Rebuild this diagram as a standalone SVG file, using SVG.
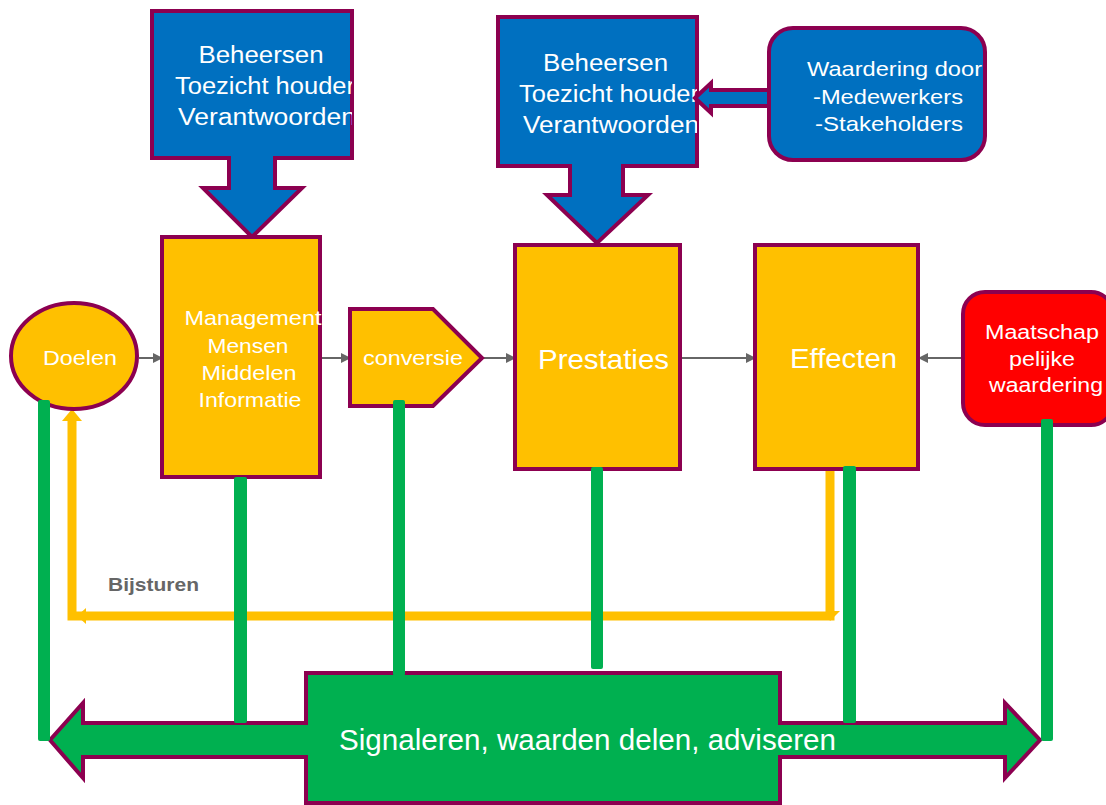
<svg xmlns="http://www.w3.org/2000/svg" width="1106" height="805" viewBox="0 0 1106 805">
<style>
.ol{stroke:#8C0050;stroke-width:4;stroke-linejoin:miter}
.blue{fill:#0070C0}
.yel{fill:#FFC000}
.t{font-family:"Liberation Sans",Arial,sans-serif;fill:#FFFFFF;text-anchor:middle}
.ts{font-family:"Liberation Sans",Arial,sans-serif;fill:#FFFFFF}
.gbar{fill:#00B050}
.con{stroke:#666666;stroke-width:2;fill:none}
.ybar{stroke:#FFC000;stroke-width:9;fill:none}
</style>
<defs>
<marker id="ah" viewBox="0 0 10 10" refX="9" refY="5" markerWidth="10" markerHeight="10" markerUnits="userSpaceOnUse" orient="auto">
<path d="M0,0 L10,5 L0,10 z" fill="#666666"/>
</marker>
<clipPath id="c1"><rect x="152" y="11" width="200" height="147"/></clipPath>
<clipPath id="c2"><rect x="498" y="17" width="199" height="149"/></clipPath>
<clipPath id="c3"><rect x="963" y="292" width="143" height="133"/></clipPath>
</defs>

<g id="beheersen1">
<polygon class="ol blue" points="152,11 352,11 352,158 275,158 275,188 302,188 252,237 203,188 229,188 229,158 152,158"/>
<g clip-path="url(#c1)">
<text class="t" x="261" y="63" font-size="23" textLength="125" lengthAdjust="spacingAndGlyphs">Beheersen</text>
<text class="ts" x="175" y="94" font-size="23" textLength="180" lengthAdjust="spacingAndGlyphs">Toezicht houder</text>
<text class="ts" x="178" y="125" font-size="23" textLength="178" lengthAdjust="spacingAndGlyphs">Verantwoorden</text>
</g>
</g>

<g id="beheersen2">
<polygon class="ol blue" points="498,17 697,17 697,166 623,166 623,195 648,195 597,243 547,195 570,195 570,166 498,166"/>
<g clip-path="url(#c2)">
<text class="t" x="605.5" y="71" font-size="23" textLength="125" lengthAdjust="spacingAndGlyphs">Beheersen</text>
<text class="ts" x="519" y="102" font-size="23" textLength="180" lengthAdjust="spacingAndGlyphs">Toezicht houder</text>
<text class="ts" x="523" y="133" font-size="23" textLength="176" lengthAdjust="spacingAndGlyphs">Verantwoorden</text>
</g>
</g>

<g id="connectors">
<line class="con" x1="139" y1="358" x2="162" y2="358" marker-end="url(#ah)"/>
<line class="con" x1="322" y1="358" x2="350" y2="358" marker-end="url(#ah)"/>
<line class="con" x1="483" y1="358" x2="515" y2="358" marker-end="url(#ah)"/>
<line class="con" x1="681" y1="358" x2="755" y2="358" marker-end="url(#ah)"/>
<line class="con" x1="963" y1="358" x2="919" y2="358" marker-end="url(#ah)"/>
<polygon class="ol blue" stroke-width="3" points="695,98 711,83 711,90 775,90 775,106 711,106 711,113"/>
<path class="ybar" d="M830,467 L830,616 L72,616 L72,420"/>
<polygon fill="#FFC000" points="72,409 82,421 62,421"/>
<polygon fill="#FFC000" points="77,616 86,608 86,624"/>
<polygon fill="#FFC000" points="826,611 840,611 830,621"/>
</g>

<g id="waardering">
<rect class="ol blue" x="769" y="28" width="216" height="132" rx="24"/>
<text class="ts" x="807" y="76" font-size="21" textLength="175" lengthAdjust="spacingAndGlyphs">Waardering door</text>
<text class="ts" x="813" y="104" font-size="21" textLength="150" lengthAdjust="spacingAndGlyphs">-Medewerkers</text>
<text class="ts" x="815" y="131" font-size="21" textLength="148" lengthAdjust="spacingAndGlyphs">-Stakeholders</text>
</g>

<g id="doelen">
<ellipse class="ol yel" cx="74" cy="356" rx="63" ry="53"/>
<text class="t" x="80" y="365" font-size="21" textLength="74" lengthAdjust="spacingAndGlyphs">Doelen</text>
</g>

<g id="management">
<rect class="ol yel" x="162" y="237" width="158" height="240"/>
<text class="t" x="253" y="325" font-size="21" textLength="137" lengthAdjust="spacingAndGlyphs">Management</text>
<text class="t" x="248" y="353" font-size="21" textLength="81" lengthAdjust="spacingAndGlyphs">Mensen</text>
<text class="t" x="249" y="380" font-size="21" textLength="95" lengthAdjust="spacingAndGlyphs">Middelen</text>
<text class="t" x="250" y="407" font-size="21" textLength="103" lengthAdjust="spacingAndGlyphs">Informatie</text>
</g>

<g id="conversie">
<polygon class="ol yel" points="350,309 433,309 482,358 433,406 350,406"/>
<text class="t" x="413" y="365" font-size="21" textLength="100" lengthAdjust="spacingAndGlyphs">conversie</text>
</g>

<g id="prestaties">
<rect class="ol yel" x="515" y="245" width="165" height="224"/>
<text class="t" x="603.5" y="369" font-size="28" textLength="131" lengthAdjust="spacingAndGlyphs">Prestaties</text>
</g>

<g id="effecten">
<rect class="ol yel" x="755" y="245" width="163" height="224"/>
<text class="t" x="843.5" y="368" font-size="27" textLength="107" lengthAdjust="spacingAndGlyphs">Effecten</text>
</g>

<g id="maatschappelijk">
<rect class="ol" fill="#FF0000" x="963" y="292" width="150" height="133" rx="22"/>
<g clip-path="url(#c3)">
<text class="t" x="1042" y="339" font-size="20" textLength="114" lengthAdjust="spacingAndGlyphs">Maatschap</text>
<text class="t" x="1042" y="366" font-size="20" textLength="66" lengthAdjust="spacingAndGlyphs">pelijke</text>
<text class="t" x="1046" y="392" font-size="20" textLength="114" lengthAdjust="spacingAndGlyphs">waardering</text>
</g>
</g>

<g id="bijsturen">
<text x="108" y="591" font-family="Liberation Sans,Arial,sans-serif" font-weight="bold" font-size="19" fill="#666666" textLength="91" lengthAdjust="spacingAndGlyphs">Bijsturen</text>
</g>

<g id="signaleren">
<polygon class="ol" fill="#00B050" points="50,740 83,703 83,723 306,723 306,673 780,673 780,723 1005,723 1005,703 1040,740 1005,778 1005,757 780,757 780,803 306,803 306,757 83,757 83,778"/>
<text class="t" x="587.5" y="750" font-size="29" textLength="497" lengthAdjust="spacingAndGlyphs">Signaleren, waarden delen, adviseren</text>
</g>

<g id="links">
<rect class="gbar" x="38" y="400" width="12" height="341" rx="2"/>
<rect class="gbar" x="234" y="477" width="13" height="246" rx="2"/>
<rect class="gbar" x="393" y="400" width="12" height="276" rx="2"/>
<rect class="gbar" x="591" y="467" width="12" height="202" rx="2"/>
<rect class="gbar" x="843" y="466" width="13" height="257" rx="2"/>
<rect class="gbar" x="1041" y="419" width="12" height="322" rx="2"/>
</g>
</svg>
